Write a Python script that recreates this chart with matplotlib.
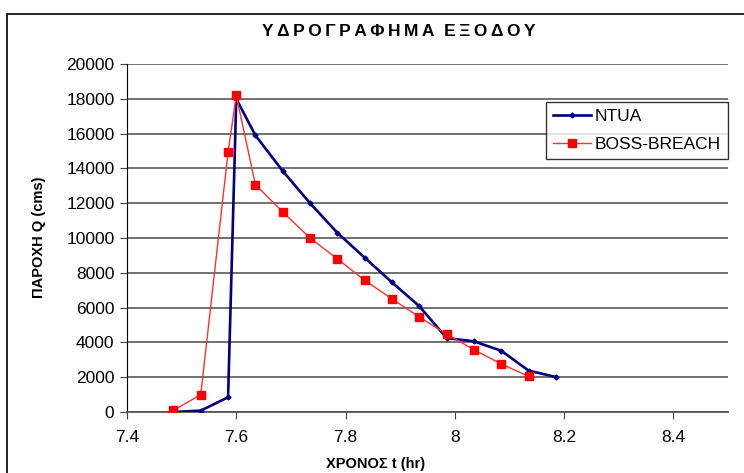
import matplotlib.pyplot as plt
from matplotlib.patches import Rectangle

# NTUA hydrograph
t_ntua = [7.485, 7.535, 7.585, 7.600, 7.635, 7.685, 7.735, 7.785, 7.835,
          7.885, 7.935, 7.985, 8.035, 8.085, 8.135, 8.185]
q_ntua = [0, 80, 850, 18000, 15900, 13850, 12000, 10300, 8870,
          7450, 6080, 4250, 4060, 3520, 2380, 2010]

# BOSS-BREACH hydrograph
t_boss = [7.485, 7.535, 7.585, 7.600, 7.635, 7.685, 7.735, 7.785, 7.835,
          7.885, 7.935, 7.985, 8.035, 8.085, 8.135]
q_boss = [90, 1000, 14930, 18190, 13070, 11500, 10000, 8800, 7570,
          6500, 5460, 4480, 3580, 2760, 2050]

xticks = [7.4, 7.6, 7.8, 8.0, 8.2, 8.4]
xlabels = ['7.4', '7.6', '7.8', '8', '8.2', '8.4']
yticks = list(range(0, 20001, 2000))

plt.rcParams['font.family'] = ['Liberation Sans', 'DejaVu Sans']

fig = plt.figure(figsize=(7.44, 4.73), dpi=100)
ax = fig.add_axes([127/744, 1-412/473, (728-127)/744, (412-64)/473])

# chart area border (cut off at right/bottom in the original)
fig.patches.append(Rectangle((7/744, -0.1), 1.2, 1 - 14/473 + 0.1,
                             transform=fig.transFigure, fill=False,
                             edgecolor='black', linewidth=1.2))

ax.plot(t_ntua, q_ntua, color='#000080', lw=1.9, marker='D', ms=2.5,
        label='NTUA', zorder=3)
ax.plot(t_boss, q_boss, color='#ff3030', lw=1.0, marker='s', ms=6,
        mfc='red', mec='red', label='BOSS-BREACH', zorder=4)

ax.set_xlim(7.4, 8.5)
ax.set_ylim(0, 20000)
ax.set_xticks(xticks)
ax.set_xticklabels(xlabels)
ax.set_yticks(yticks)
ax.grid(axis='y', color='#666666', lw=1.3)
ax.set_axisbelow(True)
for s in ['top', 'right']:
    ax.spines[s].set_visible(False)
ax.spines['left'].set_color('black')
ax.spines['bottom'].set_color('#555555')
ax.spines['bottom'].set_linewidth(1.3)
ax.tick_params(axis='both', direction='out', length=5, color='#444444',
               labelsize=12.5)
ax.tick_params(axis='y', pad=4)
ax.tick_params(axis='x', pad=8)

title = '\u2009'.join('ΥΔΡΟΓΡΑΦΗΜΑ') + '  ' + '\u2009'.join('ΕΞΟΔΟΥ')
fig.text(399/744, 1-32/473, title, ha='center', va='center',
         fontsize=12.5, fontweight='bold')
fig.text(376/744, 1-464/473, 'ΧΡΟΝΟΣ t (hr)', ha='center', va='center',
         fontsize=10.5, fontweight='bold')
fig.text(39/744, 1-237/473, 'ΠΑΡΟΧΗ Q (cms)', ha='center', va='center',
         rotation=90, fontsize=10.5, fontweight='bold')

leg = ax.legend(loc='upper left', bbox_to_anchor=((546-127)/601, (412-102)/348),
                fontsize=12.5, frameon=True, fancybox=False, borderpad=0.4,
                handlelength=2.2, handletextpad=0.2, labelspacing=0.75,
                borderaxespad=0)
leg.get_frame().set_edgecolor('black')
leg.get_frame().set_linewidth(1.0)

plt.savefig('out.png', dpi=100)
